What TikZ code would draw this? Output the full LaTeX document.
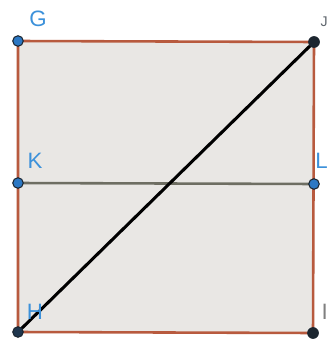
\documentclass[tikz,border=0pt]{standalone}
\usepackage{fontspec}
\setmainfont{Liberation Sans}
\usetikzlibrary{positioning}
\definecolor{SqFill}{HTML}{E9E7E4}
\definecolor{SqEdge}{HTML}{B85A3E}
\definecolor{MidLine}{HTML}{6E6E62}
\definecolor{PtBlue}{HTML}{2C78C4}
\definecolor{PtDark}{HTML}{1C2630}
\definecolor{LblBlue}{HTML}{3C91DA}
\tikzset{
  pt/.style={circle, fill=PtBlue, draw=PtDark, line width=0.9pt, inner sep=0pt, minimum size=9pt},
  ptdark/.style={circle, fill=PtDark, inner sep=0pt, minimum size=10pt},
  lbl/.style={text=LblBlue, font=\fontsize{19}{19}\selectfont, inner sep=0pt}
}
\begin{document}
\begin{tikzpicture}[x=0.03cm, y=-0.03cm]
  \useasboundingbox[fill=white] (0,0) rectangle (328,345);
  \coordinate (G) at (18,41);
  \coordinate (J) at (314,42);
  \coordinate (K) at (18,183);
  \coordinate (L) at (314,184);
  \coordinate (H) at (18,332);
  \coordinate (I) at (313,333);
  \fill[SqFill] (G) -- (J) -- (I) -- (H) -- cycle;
  \draw[SqEdge, line width=2.2pt] (G) -- (J) -- (I) -- (H) -- cycle;
  \draw[MidLine, line width=2.2pt] (K) -- (L);
  \draw[black, line width=2.6pt] (H) -- (J);
  \node[pt] (g) at (G) {};
  \node[pt] (k) at (K) {};
  \node[pt] (l) at (L) {};
  \node[ptdark] (j) at (J) {};
  \node[ptdark] (i) at (I) {};
  \node[pt, fill=PtDark!80!PtBlue] (h) at (H) {};
  \node[lbl] at (38,19) {G};
  \node[lbl] at (35,161) {K};
  \node[lbl] at (35,312) {H};
  \node[lbl, anchor=east] at (328,161) {L};
  \node[lbl, text=gray, anchor=east] at (328,312) {I};
  \node[lbl, text=PtDark!70, anchor=east, font=\fontsize{12}{12}\selectfont] at (328,22) {J};
\end{tikzpicture}
\end{document}
